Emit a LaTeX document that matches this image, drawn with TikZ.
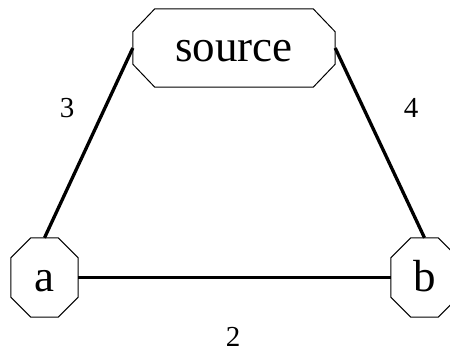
\documentclass[tikz,border=0pt]{standalone}
\usepackage{fontspec}
\setmainfont{Liberation Serif}
\newcommand\octoshape[3]{%
  \draw[octline] ([xshift=#2]#1.north west) -- ([xshift=-#2]#1.north east)
    -- ([yshift=-#3]#1.north east) -- ([yshift=#3]#1.south east)
    -- ([xshift=-#2]#1.south east) -- ([xshift=#2]#1.south west)
    -- ([yshift=#3]#1.south west) -- ([yshift=-#3]#1.north west) -- cycle;}
\begin{document}
\begin{tikzpicture}[x=1pt,y=-1pt,
  box/.style={rectangle, draw=none, inner sep=0pt, text height=27pt, text depth=0pt,
    font=\fontsize{45}{45}\selectfont},
  octline/.style={draw=black, line width=1pt},
  link/.style={draw=black, line width=3.3pt},
  weight/.style={inner sep=0pt, font=\fontsize{29}{29}\selectfont}]
  \clip (0,0) rectangle (450,354);
  \node[box, minimum width=202pt, minimum height=78pt] (src) at (234,48) {source};
  \node[box, minimum width=67pt, minimum height=79pt] (a) at (44.5,277.5) {a};
  \node[box, minimum width=67pt, minimum height=79pt] (b) at (424.5,277.5) {b};
  \octoshape{src}{22pt}{23pt}
  \octoshape{a}{20pt}{20pt}
  \octoshape{b}{20pt}{20pt}
  \draw[link] (src.west) -- (a.north);
  \draw[link] (src.east) -- (b.north);
  \draw[link] (a.east) -- (b.west);
  \node[weight] (w3) at (67,108) {3};
  \node[weight] (w4) at (411,108) {4};
  \node[weight] (w2) at (233,337) {2};
\end{tikzpicture}
\end{document}
